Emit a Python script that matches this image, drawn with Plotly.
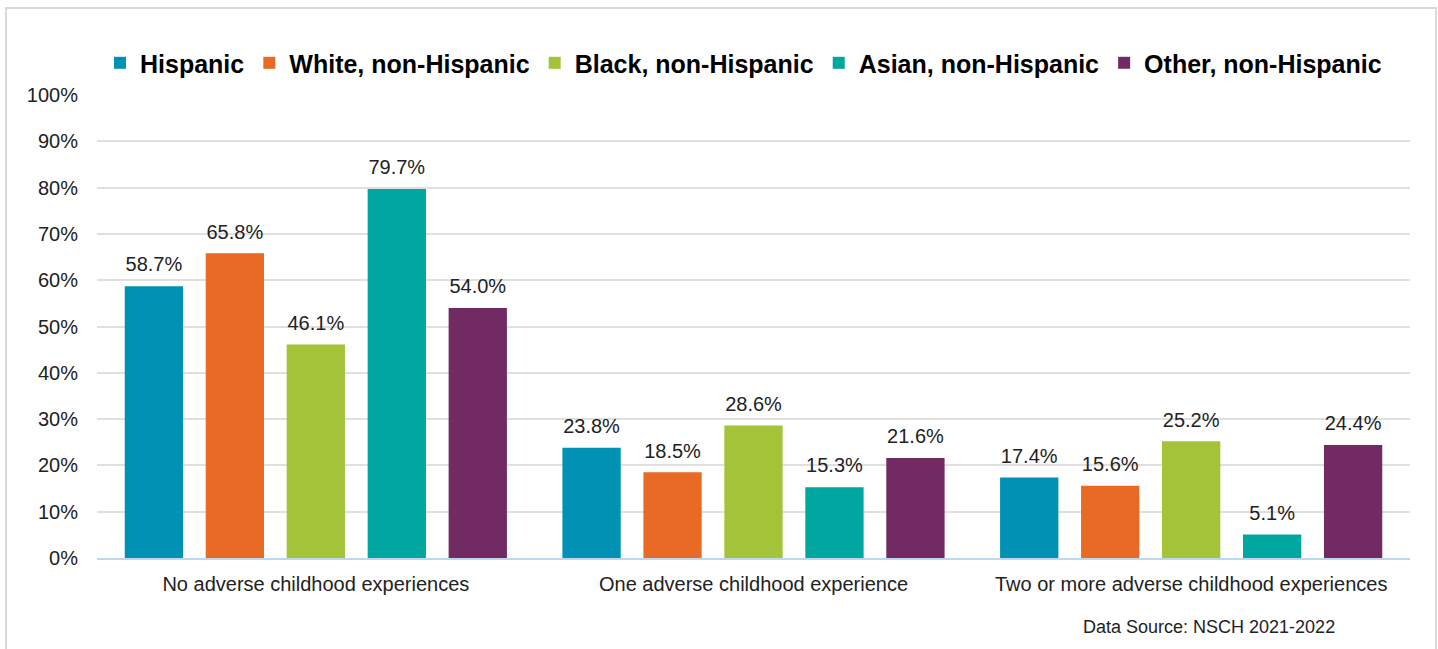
import plotly.graph_objects as go

categories = ["No adverse childhood experiences", "One adverse childhood experience",
              "Two or more adverse childhood experiences"]
series_names = ["Hispanic", "White, non-Hispanic", "Black, non-Hispanic",
                "Asian, non-Hispanic", "Other, non-Hispanic"]
hispanic = [58.7, 23.8, 17.4]
white = [65.8, 18.5, 15.6]
black = [46.1, 28.6, 25.2]
asian = [79.7, 15.3, 5.1]
other = [54.0, 21.6, 24.4]
tick_vals = [0, 10, 20, 30, 40, 50, 60, 70, 80, 90, 100]
tick_text = [f"{v}%" for v in tick_vals]

colors = ["#0091B4", "#E96A24", "#A4C339", "#00A6A0", "#722A63"]
values = [hispanic, white, black, asian, other]

fig = go.Figure()
for i, (name, vals, c) in enumerate(zip(series_names, values, colors)):
    fig.add_trace(go.Bar(
        x=categories, y=vals, name=name, marker=dict(color=c, line=dict(width=0)),
        offsetgroup=str(i), alignmentgroup="a",
    ))
for i, (name, vals) in enumerate(zip(series_names, values)):
    fig.add_trace(go.Scatter(
        x=categories, y=vals, mode="markers+text", showlegend=False, hoverinfo="skip",
        marker=dict(size=14, color="rgba(0,0,0,0)"),
        text=[f"{v:.1f}%" for v in vals], textposition="top center",
        textfont=dict(family="Liberation Sans, Arial, sans-serif", size=20, color="#222222"),
        offsetgroup=str(i), alignmentgroup="a", cliponaxis=False,
    ))

fig.update_layout(
    width=1438, height=649,
    margin=dict(l=97, r=28, t=95, b=91),
    paper_bgcolor="white", plot_bgcolor="white",
    barmode="group", bargap=0.075, bargroupgap=0.28,
    scattermode="group", scattergap=0.075,
    font=dict(family="Liberation Sans, Arial, sans-serif", color="#222222"),
    legend=dict(orientation="h", x=0.0023, xanchor="left", y=1.069, yanchor="middle",
                font=dict(family="Liberation Sans Narrow, Arial Narrow, Liberation Sans, sans-serif",
                          size=25, color="#000000", weight="bold"),
                itemwidth=30, tracegroupgap=0, traceorder="normal"),
    xaxis=dict(showline=True, linecolor="#BDD7EE", linewidth=2, ticks="",
               tickfont=dict(size=20, color="#222222"), showgrid=False,
               ticklabelstandoff=7),
    yaxis=dict(range=[0, 100], tickvals=tick_vals, ticktext=tick_text,
               showgrid=True, gridcolor="#E0E0E0", gridwidth=1.5, zeroline=False,
               tickfont=dict(size=20, color="#222222"), ticklabelstandoff=18),
    showlegend=True,
)

fig.add_shape(type="rect", xref="paper", yref="paper",
              x0=(6 - 97) / 1313, x1=(1436 - 97) / 1313,
              y0=(558 - 660) / 463, y1=(558 - 8) / 463,
              line=dict(color="#D9D9D9", width=2), fillcolor="rgba(0,0,0,0)", layer="below")

fig.add_annotation(text="Data Source: NSCH 2021-2022", xref="paper", yref="paper",
                   x=(1337 - 97) / 1313, xanchor="right", y=(558 - 627) / 463, yanchor="middle",
                   showarrow=False, font=dict(size=18, color="#222222"))

fig.write_html("out.html")
